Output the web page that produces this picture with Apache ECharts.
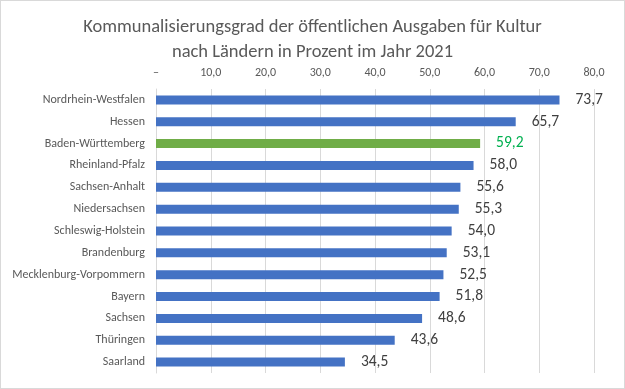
<!DOCTYPE html>
<html><head><meta charset="utf-8">
<script src="https://cdn.jsdelivr.net/npm/echarts@6/dist/echarts.min.js"></script>
<style>html,body{margin:0;padding:0;background:#fff}#c{width:625px;height:389px;box-sizing:border-box;border:1px solid #d9d9d9}</style>
</head><body><div id="c"></div>
<script>
const categories = ["Nordrhein-Westfalen","Hessen","Baden-Württemberg","Rheinland-Pfalz","Sachsen-Anhalt","Niedersachsen","Schleswig-Holstein","Brandenburg","Mecklenburg-Vorpommern","Bayern","Sachsen","Thüringen","Saarland"];
const values = [73.7,65.7,59.2,58.0,55.6,55.3,54.0,53.1,52.5,51.8,48.6,43.6,34.5];
const highlight = "Baden-Württemberg";
const titleText = "Kommunalisierungsgrad der öffentlichen Ausgaben für Kultur\nnach Ländern in Prozent im Jahr 2021";
const FONT = "Carlito, 'Liberation Sans', sans-serif";
const fmt = v => v.toFixed(1).replace('.', ',');
const chart = echarts.init(document.getElementById('c'));
chart.setOption({
  animation: false,
  title: { text: titleText, left: 'center', top: 9, textStyle: { fontFamily: FONT, fontSize: 18.5, fontWeight: 'normal', color: '#595959', lineHeight: 25 } },
  grid: { left: 155, right: 30, top: 88, bottom: 15, containLabel: false },
  xAxis: { type: 'value', position: 'top', min: 0, max: 80, interval: 10,
    axisLine: { show: false }, axisTick: { show: false },
    splitLine: { lineStyle: { color: '#d9d9d9', width: 1 } },
    axisLabel: { margin: 10, fontFamily: FONT, fontSize: 12, color: '#595959', formatter: v => v === 0 ? '–' : fmt(v) } },
  yAxis: { type: 'category', inverse: true, data: categories,
    axisLine: { show: true, lineStyle: { color: '#d9d9d9' } }, axisTick: { show: false },
    axisLabel: { margin: 11, fontFamily: FONT, fontSize: 12, color: '#595959' } },
  series: [{ type: 'bar', barWidth: 9,
    data: values.map((v, i) => ({ value: v,
      itemStyle: { color: categories[i] === highlight ? '#70AD47' : '#4472C4' },
      label: { color: categories[i] === highlight ? '#00B050' : '#404040' } })),
    label: { show: true, position: 'right', distance: 16, fontFamily: FONT, fontSize: 15.5, formatter: p => fmt(p.value) } }]
});
</script></body></html>
